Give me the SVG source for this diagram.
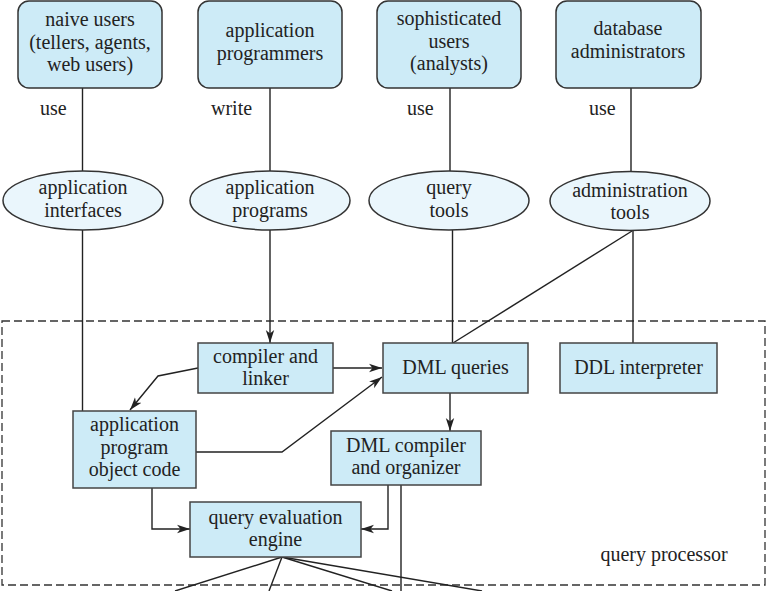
<svg xmlns="http://www.w3.org/2000/svg" width="766" height="591" viewBox="0 0 766 591">
<style>
text{font-family:"Liberation Serif","Times New Roman",serif;font-size:20px;fill:#222;text-anchor:middle}
.lbl{text-anchor:start}
.user{fill:#cdebf7;stroke:#333;stroke-width:1.5}
.tool{fill:#eaf6fc;stroke:#333;stroke-width:1.5}
.box{fill:#cdebf7;stroke:#444;stroke-width:1.5}
.c{fill:none;stroke:#222;stroke-width:1.4}
.a{marker-end:url(#arr)}
</style>
<defs>
<marker id="arr" markerUnits="userSpaceOnUse" markerWidth="14" markerHeight="10" refX="13" refY="5" orient="auto">
<path d="M0,0.8 L13,5 L0,9.2 L3.5,5 z" fill="#222"/>
</marker>
</defs>
<rect x="2" y="321" width="763" height="264" fill="none" stroke="#333" stroke-width="1.3" stroke-dasharray="8,4"/>
<text x="664" y="561">query processor</text>
<g id="connectors">
<line class="c" x1="82.5" y1="88" x2="82.5" y2="171"/>
<line class="c" x1="82.5" y1="230" x2="82.5" y2="411"/>
<line class="c" x1="270" y1="88" x2="270" y2="171"/>
<line class="c a" x1="270" y1="230" x2="270" y2="343"/>
<line class="c" x1="450" y1="88" x2="450" y2="171"/>
<line class="c" x1="452.5" y1="230" x2="452.5" y2="343"/>
<line class="c" x1="631" y1="88" x2="631" y2="171"/>
<line class="c" x1="633" y1="231" x2="633" y2="343"/>
<line class="c" x1="632" y1="231" x2="453" y2="343"/>
<line class="c a" x1="333" y1="368" x2="382" y2="368"/>
<polyline class="c a" points="198,368 158,376 130,410"/>
<polyline class="c a" points="196,452 282,452 382,377"/>
<line class="c a" x1="450" y1="393" x2="450" y2="431"/>
<polyline class="c a" points="152,488 152,529 190,529"/>
<polyline class="c a" points="388,485 388,529 361,529"/>
<line class="c" x1="401" y1="485" x2="401" y2="591"/>
<line class="c" x1="282" y1="557" x2="175" y2="591"/>
<line class="c" x1="282" y1="557" x2="269" y2="591"/>
<line class="c" x1="282" y1="557" x2="392" y2="591"/>
<line class="c" x1="282" y1="557" x2="482" y2="591"/>
</g>
<text class="lbl" x="40" y="115">use</text>
<text class="lbl" x="211" y="115">write</text>
<text class="lbl" x="407" y="115">use</text>
<text class="lbl" x="589" y="115">use</text>
<g id="naive-users">
<rect class="user" x="18" y="1" width="144" height="87" rx="11"/>
<text x="90" y="26">naive users</text>
<text x="90" y="48.5">(tellers, agents,</text>
<text x="90" y="71">web users)</text>
</g>
<g id="application-programmers">
<rect class="user" x="198" y="1" width="144" height="87" rx="11"/>
<text x="270" y="37">application</text>
<text x="270" y="60">programmers</text>
</g>
<g id="sophisticated-users">
<rect class="user" x="377" y="1" width="144" height="87" rx="11"/>
<text x="449" y="25">sophisticated</text>
<text x="449" y="47.5">users</text>
<text x="449" y="70">(analysts)</text>
</g>
<g id="database-administrators">
<rect class="user" x="556" y="1" width="145" height="87" rx="11"/>
<text x="628" y="35">database</text>
<text x="628" y="58">administrators</text>
</g>
<g id="application-interfaces">
<ellipse class="tool" cx="83" cy="200.5" rx="80" ry="29.5"/>
<text x="83" y="194">application</text>
<text x="83" y="217">interfaces</text>
</g>
<g id="application-programs">
<ellipse class="tool" cx="270" cy="200.5" rx="80" ry="29.5"/>
<text x="270" y="194">application</text>
<text x="270" y="217">programs</text>
</g>
<g id="query-tools">
<ellipse class="tool" cx="449" cy="200.5" rx="80" ry="29.5"/>
<text x="449" y="194">query</text>
<text x="449" y="217">tools</text>
</g>
<g id="administration-tools">
<ellipse class="tool" cx="630" cy="201" rx="80" ry="29.5"/>
<text x="630" y="197">administration</text>
<text x="630" y="219">tools</text>
</g>
<g id="compiler-linker">
<rect class="box" x="198" y="343" width="135" height="50"/>
<text x="265.5" y="363">compiler and</text>
<text x="265.5" y="385">linker</text>
</g>
<g id="dml-queries">
<rect class="box" x="383" y="343" width="145" height="50"/>
<text x="455.5" y="374">DML queries</text>
</g>
<g id="ddl-interpreter">
<rect class="box" x="560" y="343" width="157" height="50"/>
<text x="638.5" y="374">DDL interpreter</text>
</g>
<g id="app-object-code">
<rect class="box" x="73" y="411" width="123" height="77"/>
<text x="134.5" y="431">application</text>
<text x="134.5" y="453.5">program</text>
<text x="134.5" y="476">object code</text>
</g>
<g id="dml-compiler">
<rect class="box" x="331" y="431" width="150" height="54"/>
<text x="406" y="452">DML compiler</text>
<text x="406" y="474">and organizer</text>
</g>
<g id="query-evaluation-engine">
<rect class="box" x="190" y="502" width="171" height="55"/>
<text x="275.5" y="524">query evaluation</text>
<text x="275.5" y="546">engine</text>
</g>
</svg>
